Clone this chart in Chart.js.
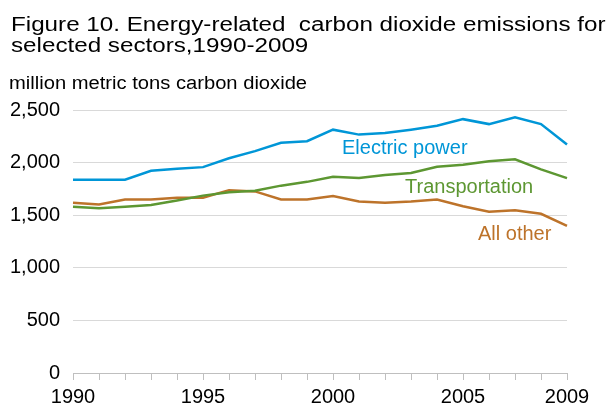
<!DOCTYPE html>
<html>
<head>
<meta charset="utf-8">
<script src="https://cdn.jsdelivr.net/npm/chart.js@4.4.0/dist/chart.umd.min.js"></script>
<style>
  body { margin: 0; background: #fff; }
  #wrap { position: relative; width: 616px; height: 405px; overflow: hidden; font-family: "Liberation Sans", Arial, sans-serif; }
  #wrap canvas { position: absolute; left: 0; top: 0; }
  .txt { position: absolute; white-space: nowrap; transform-origin: 0 0; }
  .title { font-size: 20px; line-height: 20px; color: #000; transform: scaleX(1.21); left: 11px; }
  .unit { font-size: 18px; line-height: 18px; color: #000; transform: scaleX(1.12); left: 9px; top: 74px; }
  .lab { font-size: 20px; line-height: 20px; }
</style>
</head>
<body>
<div id="wrap">
  <canvas id="myChart" width="616" height="405"></canvas>
  <div class="txt title" style="top:14px">Figure 10. Energy-related&nbsp; carbon dioxide emissions for</div>
  <div class="txt title" style="top:35px">selected sectors,1990-2009</div>
  <div class="txt unit">million metric tons carbon dioxide</div>
  <div class="txt lab" style="left:342px; top:137px; color:#0096d7">Electric power</div>
  <div class="txt lab" style="left:405px; top:176px; color:#5d9732">Transportation</div>
  <div class="txt lab" style="left:478px; top:223px; color:#bd732a">All other</div>
</div>
<script>
const years = ['1990','1991','1992','1993','1994','1995','1996','1997','1998','1999',
  '2000','2001','2002','2003','2004','2005','2006','2007','2008','2009'];
const shownYears = ['1990','1995','2000','2005','2009'];

const electricPower = [1837, 1837, 1837, 1922, 1941, 1957, 2041, 2109, 2188, 2203,
  2313, 2266, 2281, 2313, 2350, 2413, 2366, 2431, 2366, 2172];
const transportation = [1581, 1565, 1581, 1598, 1640, 1686, 1719, 1732, 1781, 1817,
  1866, 1853, 1882, 1902, 1961, 1980, 2012, 2031, 1935, 1853];
const allOther = [1618, 1601, 1650, 1650, 1667, 1667, 1738, 1726, 1650, 1650,
  1683, 1631, 1618, 1631, 1650, 1585, 1533, 1546, 1513, 1399];

const yMin = 0;
const yMax = 2500;
const yStep = 500;

function line(label, values, color) {
  return {
    label: label,
    data: values,
    borderColor: color,
    backgroundColor: color,
    borderWidth: 2.5,
    pointRadius: 0,
    tension: 0,
    fill: false
  };
}

const ctx = document.getElementById('myChart');
new Chart(ctx, {
  type: 'line',
  data: {
    labels: years,
    datasets: [
      line('Electric power', electricPower, '#0096d7'),
      line('Transportation', transportation, '#5d9732'),
      line('All other', allOther, '#bd732a')
    ]
  },
  options: {
    responsive: false,
    animation: false,
    locale: 'en-US',
    layout: { padding: { left: 0, right: 49, top: 110, bottom: 0 } },
    plugins: {
      legend: { display: false },
      tooltip: { enabled: false }
    },
    scales: {
      x: {
        offset: false,
        grid: { drawOnChartArea: false, drawTicks: true, tickLength: 7, color: '#bfbfbf' },
        border: { display: true, color: '#bfbfbf', width: 1 },
        ticks: {
          autoSkip: false,
          maxRotation: 0,
          padding: 5,
          color: '#000',
          font: { family: '"Liberation Sans", Arial, sans-serif', size: 20 },
          callback: function(value) {
            const lab = this.getLabelForValue(value);
            return shownYears.includes(lab) ? lab : '';
          }
        },
        afterFit: function(scale) { scale.height = 32; }
      },
      y: {
        min: yMin,
        max: yMax,
        grid: { color: '#d9d9d9', drawTicks: false },
        border: { display: false },
        ticks: {
          stepSize: yStep,
          padding: 13,
          color: '#000',
          font: { family: '"Liberation Sans", Arial, sans-serif', size: 20 }
        },
        afterFit: function(scale) { scale.width = 73; }
      }
    }
  }
});
</script>
</body>
</html>
